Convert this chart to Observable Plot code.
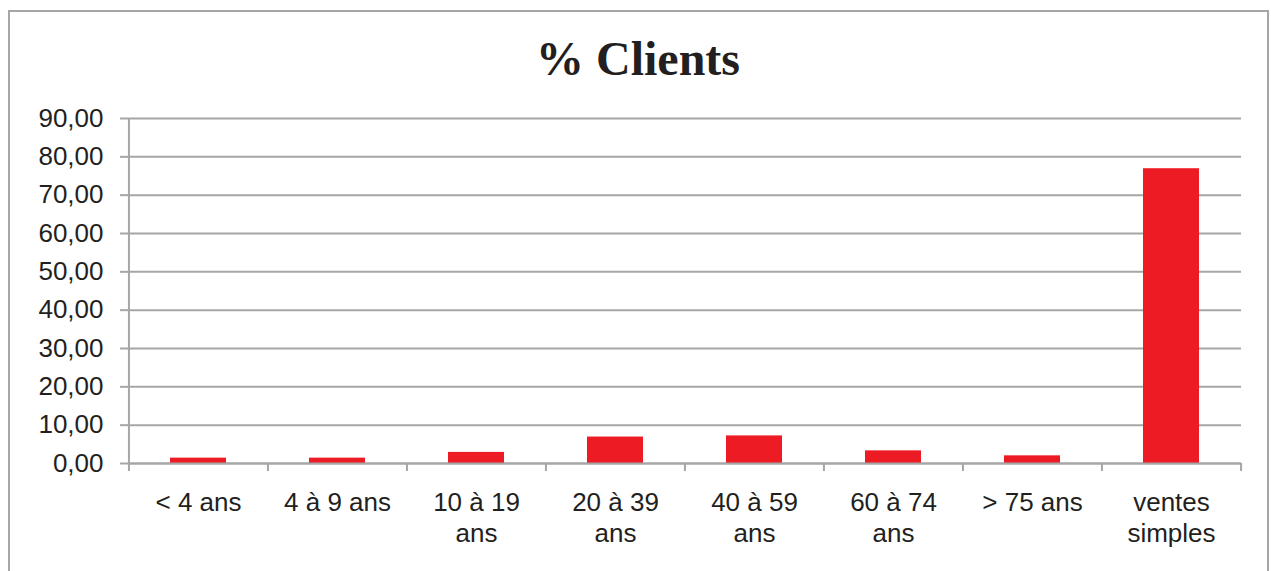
<!DOCTYPE html>
<html><head><meta charset="utf-8">
<script src="https://cdn.jsdelivr.net/npm/d3@7"></script>
<script src="https://cdn.jsdelivr.net/npm/@observablehq/plot@0.6"></script>
<style>
body{margin:0;background:#fff;overflow:hidden;width:1271px;height:571px;position:relative;}
#frame{position:absolute;left:8px;top:10px;width:1261px;height:700px;border:2px solid #a6a6a6;box-sizing:border-box;pointer-events:none;}
#title{height:65px;padding-top:35px;line-height:48px;padding-left:5px;text-align:center;font-family:"Liberation Serif","Times New Roman",serif;font-weight:bold;font-size:48px;color:#231f20;}
#chart svg{display:block;}
</style></head>
<body>
<div id="frame"></div>
<div id="title">% Clients</div>
<div id="chart"></div>
<script>
const categories = ["< 4 ans","4 à 9 ans","10 à 19\nans","20 à 39\nans","40 à 59\nans","60 à 74\nans","> 75 ans","ventes\nsimples"];
const values = [1.4, 1.4, 2.9, 6.9, 7.2, 3.3, 2.0, 76.9];
const yTicks = [0,10,20,30,40,50,60,70,80,90];

const data = categories.map((c,i)=>({cat:c, value:values[i]}));
const W=1271, H=471, mL=128, mR=30, mT=18, mB=108;
const step=(W-mL-mR)/categories.length;
const grid="#a6a6a6", ink="#231f20";
const fmt = d => d3.format(".2f")(d).replace(".", ",");

const chart = Plot.plot({
  width:W, height:H, marginLeft:mL, marginRight:mR, marginTop:mT, marginBottom:mB,
  style:{fontFamily:"'Liberation Sans',Arial,sans-serif", fontSize:"26px", color:ink, background:"#fff", overflow:"visible"},
  x:{domain:categories, paddingInner:0.6, paddingOuter:0.3, label:null},
  y:{domain:[0,90], label:null},
  marks:[
    Plot.gridY(yTicks, {stroke:grid, strokeOpacity:1, strokeWidth:2}),
    Plot.barY(data, {x:"cat", y:"value", fill:"#ed1c24"}),
    Plot.ruleY([0], {stroke:grid, strokeWidth:2}),
    Plot.ruleX([categories[0]], {x:d=>d, dx:-step/2, stroke:grid, strokeWidth:2, insetBottom:-8}),
    Plot.ruleX(categories.slice(1), {x:d=>d, y1:0, y2:0, dx:-step/2, stroke:grid, strokeWidth:2, insetBottom:-8}),
    Plot.ruleX([categories[categories.length-1]], {x:d=>d, y1:0, y2:0, dx:step/2, stroke:grid, strokeWidth:2, insetBottom:-8}),
    Plot.axisY(yTicks, {tickSize:8, tickPadding:17, stroke:grid, strokeWidth:2, tickFormat:fmt, label:null, fontSize:26}),
    Plot.axisX({tickSize:0, tickPadding:25, lineHeight:1.2, label:null, fontSize:26})
  ]
});
document.getElementById("chart").appendChild(chart);
</script>
</body></html>
